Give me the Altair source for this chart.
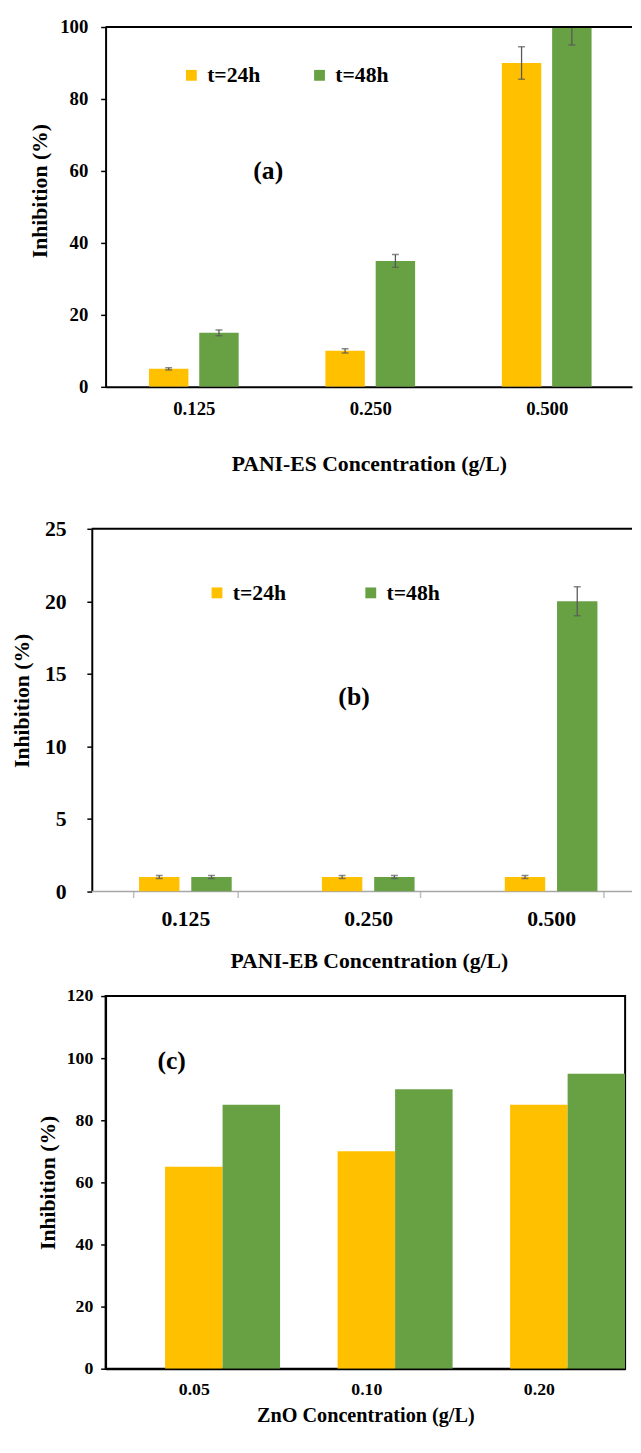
import altair as alt
import pandas as pd

FONT = "Liberation Serif, Times New Roman, Times, DejaVu Serif, serif"
SERIES = ["t=24h", "t=48h"]
COLORS = ["#FFC000", "#68A144"]

# Panel (a) PANI-ES
A_CONC = ["0.125", "0.250", "0.500"]
A_24 = [5, 10, 90]
A_48 = [15, 35, 100]
A_ERR_24 = [0.3, 0.6, 4.5]
A_ERR_48 = [0.8, 1.8, 5.0]
A_YTICKS = [0, 20, 40, 60, 80, 100]

# Panel (b) PANI-EB
B_CONC = ["0.125", "0.250", "0.500"]
B_24 = [1, 1, 1]
B_48 = [1, 1, 20]
B_ERR_24 = [0.1, 0.1, 0.1]
B_ERR_48 = [0.1, 0.1, 1.0]
B_YTICKS = [0, 5, 10, 15, 20, 25]

# Panel (c) ZnO
C_CONC = ["0.05", "0.10", "0.20"]
C_24 = [65, 70, 85]
C_48 = [85, 90, 95]
C_YTICKS = [0, 20, 40, 60, 80, 100, 120]

LABELS = ["(a)", "(b)", "(c)"]
LABEL_Y = [60, 13.4, 99]


def frame(conc, v24, v48, e24=None, e48=None):
    rows = []
    for i, c in enumerate(conc):
        for s, vals, errs in ((SERIES[0], v24, e24), (SERIES[1], v48, e48)):
            e = errs[i] if errs else 0
            rows.append({"conc": c, "series": s, "value": vals[i],
                         "lo": vals[i] - e, "hi": vals[i] + e})
    return pd.DataFrame(rows)


def panel(df, conc, ymax, yticks, xtitle, W, H, xpi, xpo, xalign, off_dom, off_pi, off_po,
          ylab_size, ylp, ytp, ytitle_size, ytitle_y, yoffset,
          xlab_size, xlp, xtp, xtitle_size, xticks, xdomain,
          legend, label_idx, label_x, errors, top_rule, gray_base, spacer_top):
    x = alt.X("conc:N", sort=conc,
              scale=alt.Scale(paddingInner=xpi, paddingOuter=xpo, align=xalign),
              axis=alt.Axis(title=xtitle, labelAngle=0, labelFont=FONT, labelFontWeight="bold",
                            labelFontSize=xlab_size, labelColor="black",
                            labelPadding=xlp, titleFont=FONT, titleFontWeight="bold",
                            titleFontSize=xtitle_size, titleColor="black", titlePadding=xtp,
                            ticks=xticks, tickBand="extent", tickColor="#BFBFBF",
                            tickSize=6 if xticks else 0, tickWidth=1.5,
                            domain=xdomain, domainColor="black", domainWidth=2))
    xo = alt.XOffset("series:N",
                     scale=alt.Scale(domain=off_dom, paddingInner=off_pi, paddingOuter=off_po))
    y_scale = alt.Scale(domain=[0, ymax], nice=False, zero=True)
    y = alt.Y("value:Q", scale=y_scale,
              axis=alt.Axis(values=yticks, title="Inhibition (%)", labelFont=FONT,
                            labelFontWeight="bold", labelFontSize=ylab_size, labelColor="black",
                            labelPadding=ylp, titleFont=FONT, titleFontWeight="bold",
                            titleFontSize=ytitle_size, titleColor="black", titlePadding=ytp,
                            titleY=ytitle_y, offset=yoffset))
    color = alt.Color("series:N", scale=alt.Scale(domain=SERIES, range=COLORS),
                      legend=legend)
    base = alt.Chart(df)
    one = alt.Chart(pd.DataFrame({"k": [0]}))
    layers = []
    if gray_base:
        layers.append(one.mark_rule(color="#A6A6A6", strokeWidth=1.5).encode(
            x=alt.value(-yoffset), x2=alt.value(W), y=alt.value(H)))
    layers.append(base.mark_bar(clip=True).encode(x=x, xOffset=xo, y=y, color=color))
    if errors:
        layers.append(base.mark_rule(color="#595959", strokeWidth=1.3, clip=True).encode(
            x=x, xOffset=xo, y=alt.Y("lo:Q", scale=y_scale), y2="hi:Q"))
        for fld in ("lo", "hi"):
            layers.append(base.mark_tick(color="#595959", size=7, thickness=1.5, clip=True).encode(
                x=x, xOffset=xo, y=alt.Y(f"{fld}:Q", scale=y_scale)))
    lab_df = pd.DataFrame({"label": [LABELS[label_idx]], "yv": [LABEL_Y[label_idx]]})
    layers.append(alt.Chart(lab_df).mark_text(font=FONT, fontSize=26, fontWeight="bold",
                                              color="black").encode(
        x=alt.value(label_x), y=alt.Y("yv:Q", scale=y_scale), text="label:N"))
    if top_rule:
        layers.append(one.mark_rule(color="black", strokeWidth=2).encode(
            x=alt.value(-yoffset), x2=alt.value(W), y=alt.value(0)))
    if spacer_top:
        layers.append(one.mark_rule(opacity=0).encode(
            x=alt.value(0), y=alt.value(-spacer_top), y2=alt.value(0)))
    return alt.layer(*layers).properties(width=W, height=H)


def legend(x, y, pad):
    return alt.Legend(title=None, orient="none", legendX=x, legendY=y, direction="horizontal",
                      symbolType="square", symbolSize=121, symbolStrokeWidth=0,
                      labelFont=FONT, labelFontSize=22, labelFontWeight="bold",
                      labelColor="black", columnPadding=pad, labelOffset=5, padding=0)


df_a = frame(A_CONC, A_24, A_48, A_ERR_24, A_ERR_48)
df_b = frame(B_CONC, B_24, B_48, B_ERR_24, B_ERR_48)
df_c = frame(C_CONC, C_24, C_48)

pa = panel(df_a, A_CONC, 100, A_YTICKS, "PANI-ES Concentration (g/L)", 534, 365,
           0.43, 0.2067, 0.52, SERIES, 0.2157, 0.108,
           19, 13, 8, 22, 166, 0,
           19, 13, 36, 22, False, True,
           legend(76, 38, 48), 0, 165, True, True, False, 0)
pb = panel(df_b, B_CONC, 25, B_YTICKS, "PANI-EB Concentration (g/L)", 534, 368,
           0.4286, 0.1536, 0.49, SERIES, 0.2264, 0.1132,
           22, 21, 11, 22, 174, 14,
           22, 11, 22, 22, True, False,
           legend(102, 54, 74), 1, 252, True, True, True, 40)
pc = panel(df_c, C_CONC, 120, C_YTICKS, "ZnO Concentration (g/L)", 527, 378,
           0.0, 0.0057, 1.0, [" ", SERIES[0], SERIES[1]], 0.0, 0.0,
           18, 8, 7, 22, 189, 0,
           18, 12, 8, 20.5, False, True,
           None, 2, 67, False, False, False, 0).properties(
    view=alt.ViewBackground(stroke="black", strokeWidth=2))

chart = alt.vconcat(pa, pb, pc, spacing=15).resolve_scale(
    color="independent", x="independent", y="independent", xOffset="independent"
).configure_view(stroke=None).configure_axis(
    labelFont=FONT, labelFontWeight="bold", labelColor="black",
    titleFont=FONT, titleFontWeight="bold", titleColor="black",
    domainColor="black", domainWidth=2, tickColor="black", tickWidth=1.5, tickSize=5,
    grid=False
).properties(padding={"left": 3, "top": 0, "right": 0, "bottom": 0}, background="white")

chart.save("out.html", embed_options={"renderer": "svg", "actions": False})
